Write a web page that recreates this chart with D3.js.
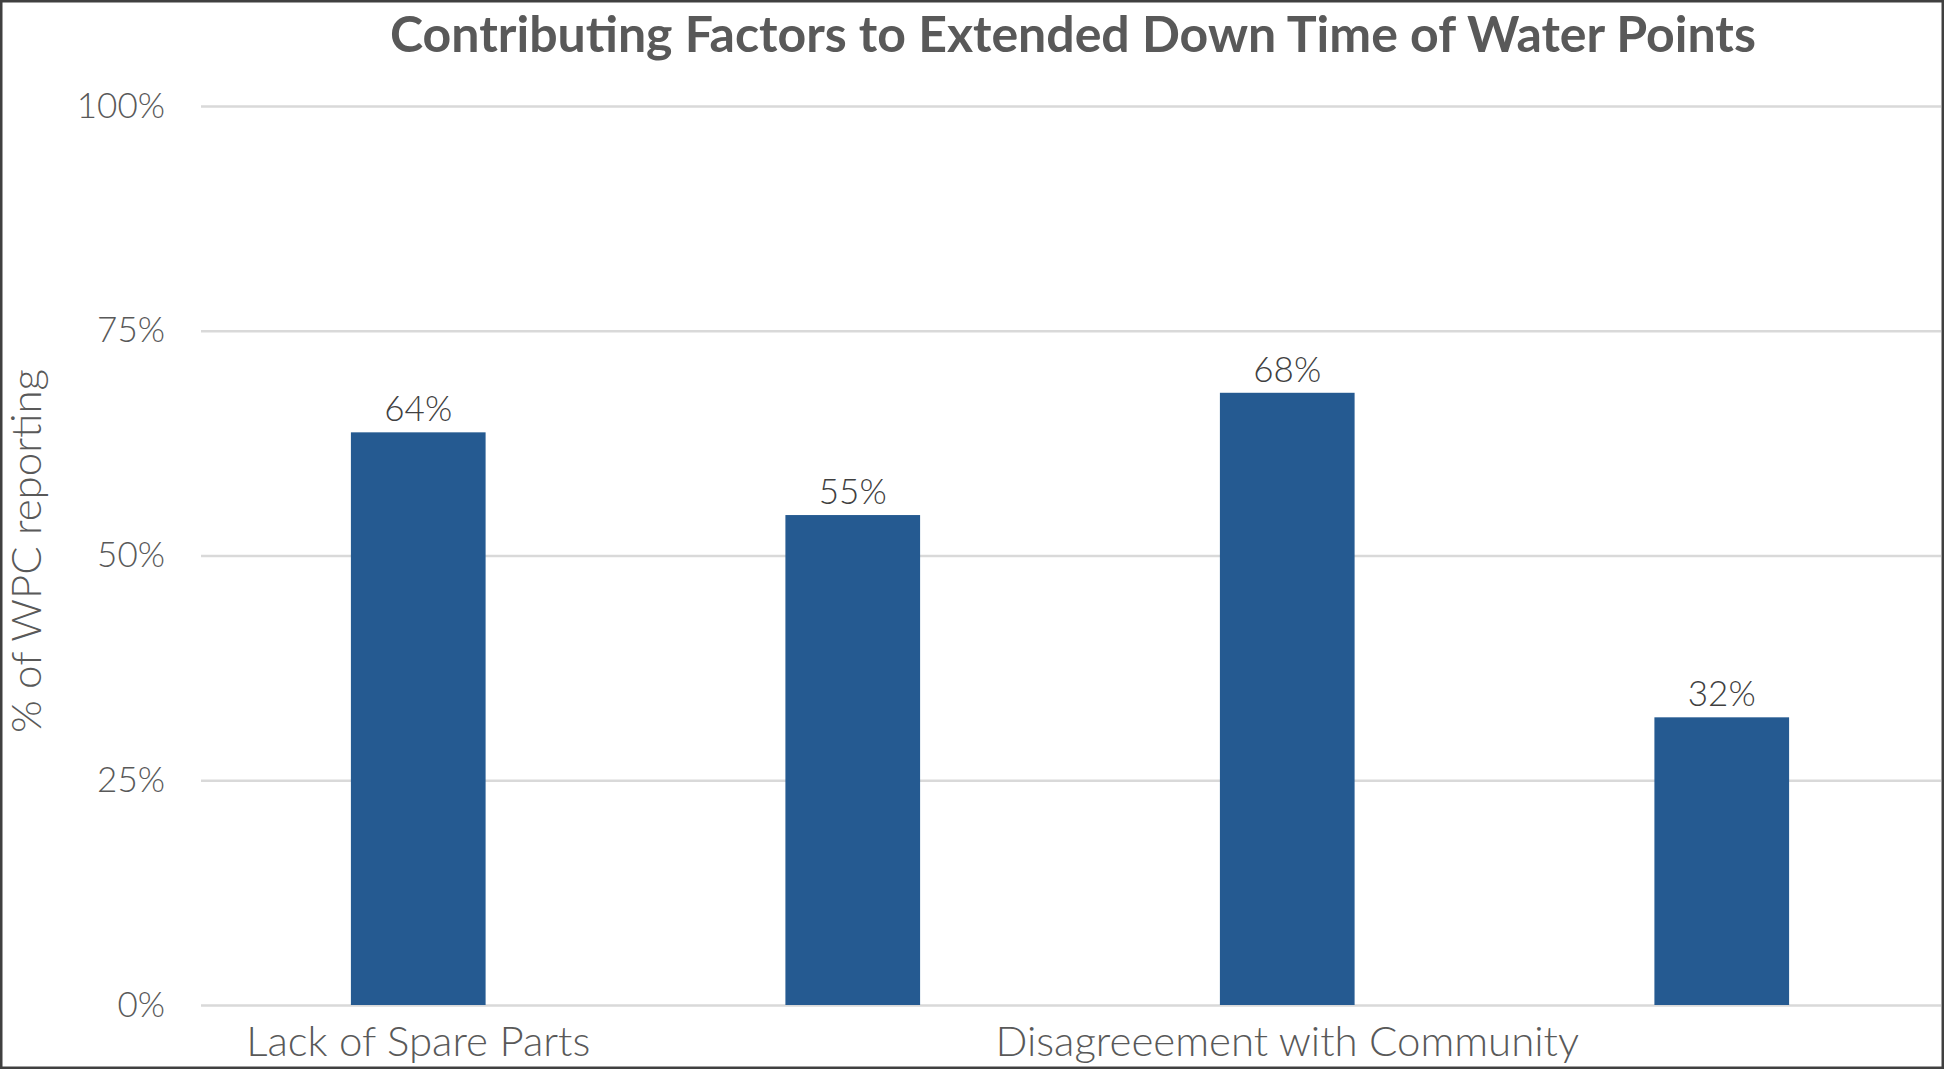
<!DOCTYPE html>
<html>
<head>
<meta charset="utf-8">
<script src="https://cdn.jsdelivr.net/npm/d3@7"></script>
<style>
  html, body { margin: 0; padding: 0; background: #ffffff; }
  svg { display: block; }
  text { font-family: Lato, "Noto Sans", sans-serif; }
</style>
</head>
<body>
<svg id="chart" width="1944" height="1069"></svg>
<script>
// ---- data ----
const chartTitle = "Contributing Factors to Extended Down Time of Water Points";
const yAxisTitle = "% of WPC reporting";
const categoryIds = ["c1", "c2", "c3", "c4"];
const categoryLabels = ["Lack of Spare Parts", "", "Disagreeement with Community", ""];
const values = [0.637, 0.545, 0.681, 0.32];
const yTicks = [0, 0.25, 0.5, 0.75, 1];

// ---- layout ----
const W = 1944, H = 1069;
const plot = { left: 201, right: 1939, top: 106, bottom: 1005 };
const gridRight = 1941;

const svg = d3.select("#chart");

svg.append("rect")
  .attr("x", 1.25).attr("y", 1.25)
  .attr("width", W - 2.5).attr("height", H - 2.5)
  .attr("fill", "#ffffff")
  .attr("stroke", "#404040").attr("stroke-width", 2.5);

const x = d3.scaleBand()
  .domain(categoryIds)
  .range([plot.left, plot.right])
  .paddingInner(0.69)
  .paddingOuter(0.345);

const y = d3.scaleLinear()
  .domain([0, 1])
  .range([plot.bottom, plot.top]);

// y axis with gridlines
const yAxis = d3.axisLeft(y)
  .tickValues(yTicks)
  .tickFormat(d3.format(".0%"))
  .tickSize(-(gridRight - plot.left))
  .tickPadding(36);

const gy = svg.append("g")
  .attr("transform", `translate(${plot.left},0)`)
  .call(yAxis);
gy.select(".domain").remove();
gy.selectAll(".tick line")
  .attr("stroke", "#d9d9d9").attr("stroke-width", 2.5);
gy.selectAll(".tick text")
  .attr("fill", "#595959")
  .style("font-size", "35px")
  .style("font-weight", 300);

// bars
svg.append("g").selectAll("rect")
  .data(values)
  .join("rect")
  .attr("x", (d, i) => x(categoryIds[i]))
  .attr("y", d => y(d))
  .attr("width", x.bandwidth())
  .attr("height", d => y(0) - y(d))
  .attr("fill", "#255a91");

// data labels
svg.append("g").selectAll("text")
  .data(values)
  .join("text")
  .attr("x", (d, i) => x(categoryIds[i]) + x.bandwidth() / 2)
  .attr("y", d => y(d) - 11)
  .attr("text-anchor", "middle")
  .attr("fill", "#404040")
  .style("font-size", "35px")
  .style("font-weight", 300)
  .text(d => d3.format(".0%")(d));

// x axis labels
const xAxis = d3.axisBottom(x)
  .tickSize(0)
  .tickPadding(21)
  .tickFormat((d, i) => categoryLabels[i]);
const gx = svg.append("g")
  .attr("transform", `translate(0,${plot.bottom})`)
  .call(xAxis);
gx.select(".domain").remove();
gx.selectAll(".tick text")
  .attr("fill", "#595959")
  .style("font-size", "42px")
  .style("font-weight", 300);

// title
svg.append("text")
  .attr("x", 1073).attr("y", 52)
  .attr("text-anchor", "middle")
  .attr("fill", "#595959")
  .style("font-size", "50px")
  .style("font-weight", 700)
  .text(chartTitle);

// y axis title
svg.append("text")
  .attr("transform", "translate(41,551) rotate(-90)")
  .attr("text-anchor", "middle")
  .attr("fill", "#595959")
  .style("font-size", "42px")
  .style("font-weight", 300)
  .text(yAxisTitle);
</script>
</body>
</html>
